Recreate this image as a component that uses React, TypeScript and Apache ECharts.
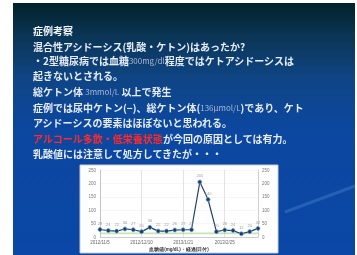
import React, { useEffect, useRef } from "react";
import * as echarts from "echarts";

const categories = [
  "2012/11/5", "2012/11/12", "2012/11/19", "2012/11/26", "2012/12/3",
  "2012/12/10", "2012/12/17", "2012/12/24", "2013/1/7", "2013/1/14",
  "2013/1/21", "2013/1/28", "2013/2/4", "2013/2/11", "2013/2/18",
  "2013/2/25", "2013/3/4", "2013/3/11", "2013/3/18", "2013/3/25",
];
const glucose = [28, 24, 22, 30, 27, 20, 36, 22, 22, 26, 27, 27, 205, 140, 20, 26, 24, 12, 20, 32];
const yTicks = { min: 0, max: 250, interval: 50 };
const targetBand = [10, 17];

const titleText = "症例考察";
const bodyLines: { text: string; y: number }[] = [
  { text: "混合性アシドーシス(乳酸・ケトン)はあったか?", y: 46 },
  { text: "・2型糖尿病では血糖{g|300mg/dl}程度ではケトアシドーシスは", y: 60.5 },
  { text: "起きないとされる。", y: 75 },
  { text: "総ケトン体 {g|3mmol/L} 以上で発生", y: 91 },
  { text: "症例では尿中ケトン(−)、総ケトン体({g|136μmol/L})であり、ケト", y: 107 },
  { text: "アシドーシスの要素はほぼないと思われる。", y: 122 },
  { text: "{r|アルコール多飲・低栄養状態}が今回の原因としては有力。", y: 138 },
  { text: "乳酸値には注意して処方してきたが・・・", y: 153 },
];

export default function App() {
  const ref = useRef<HTMLDivElement>(null);
  useEffect(() => {
    if (!ref.current) return;
    const chart = echarts.init(ref.current, null, { renderer: "svg" });
    const font = '"Noto Sans CJK JP", "Noto Sans", sans-serif';
    const rich = {
      g: { fill: "#a9b8d6", fontSize: 8, fontWeight: "normal", fontFamily: font, lineHeight: 10 },
      r: { fill: "#ff2a2a", fontSize: 10, fontWeight: "bold", fontFamily: font, lineHeight: 10 },
    };
    const graphic: any[] = [
      {
        type: "polygon",
        z: -10,
        shape: { points: [[13, 3], [355, 3], [355, 255], [13, 255]] },
        style: {
          fill: new echarts.graphic.LinearGradient(0, 0, 0, 1, [
            { offset: 0, color: "#03212a" },
            { offset: 0.12, color: "#0a3452" },
            { offset: 0.3, color: "#0f4585" },
            { offset: 0.5, color: "#0c47a0" },
            { offset: 1, color: "#0a47a6" },
          ]),
        },
      },
      {
        type: "line",
        z: -9,
        shape: { x1: 285, y1: 212, x2: 355, y2: 186 },
        style: { stroke: "rgba(120,170,230,0.25)", lineWidth: 3 },
      },
      {
        type: "rect",
        z: -9,
        shape: { x: 80, y: 165, width: 198, height: 88 },
        style: { fill: "#ffffff", stroke: "#c8ccd4", lineWidth: 1 },
      },
      {
        type: "text",
        z: 10,
        x: 33,
        y: 30.5,
        style: {
          text: titleText,
          fill: "#eef3fb",
          fontSize: 10,
          fontWeight: "bold",
          fontFamily: font,
          lineHeight: 10,
          verticalAlign: "middle",
        },
      },
      ...bodyLines.map((l) => ({
        type: "text",
        z: 10,
        x: 33,
        y: l.y,
        style: {
          text: l.text,
          fill: "#e6ecf7",
          fontSize: 10,
          fontWeight: "bold",
          fontFamily: font,
          lineHeight: 10,
          verticalAlign: "middle",
          rich,
        },
      })),
    ];
    const yAxisCommon = {
      type: "value",
      min: yTicks.min,
      max: yTicks.max,
      interval: yTicks.interval,
      axisLine: { show: true, lineStyle: { color: "#b0b0b0", width: 0.6 } },
      axisTick: { show: false },
      axisLabel: { fontSize: 4.5, color: "#777", margin: 4 },
    };
    chart.setOption({
      animation: false,
      graphic,
      grid: { left: 100, right: 99, top: 170, bottom: 18, containLabel: false },
      xAxis: {
        type: "category",
        data: categories,
        boundaryGap: false,
        axisLine: { lineStyle: { color: "#b0b0b0", width: 0.6 } },
        axisTick: { show: false },
        axisLabel: { interval: 4, fontSize: 4.5, color: "#666", margin: 3 },
        splitLine: { show: true, interval: 4, lineStyle: { color: "#d0d0d0", width: 0.6 } },
        name: "血糖値(mg/dL)・経過(日付)",
        nameLocation: "middle",
        nameGap: 10,
        nameTextStyle: { fontSize: 4.5, color: "#333", fontWeight: "bold" },
      },
      yAxis: [
        { ...yAxisCommon, position: "left", splitLine: { show: true, lineStyle: { color: "#ececec", width: 0.5 } } },
        { ...yAxisCommon, position: "right", splitLine: { show: false } },
      ],
      series: [
        {
          type: "line",
          data: glucose,
          yAxisIndex: 0,
          symbol: "circle",
          symbolSize: 4,
          lineStyle: { color: "#23406e", width: 1.2 },
          itemStyle: { color: "#1e3a66", borderColor: "#6fa6d8", borderWidth: 0.8 },
          label: { show: true, position: "top", fontSize: 4, color: "#9a9a9a", distance: 2 },
          markArea: {
            silent: true,
            itemStyle: { color: "rgba(150,210,120,0.55)" },
            data: [[{ yAxis: targetBand[0] }, { yAxis: targetBand[1] }]],
          },
        },
      ],
    });
    return () => chart.dispose();
  }, []);
  return (
    <div
      ref={ref}
      style={{ position: "fixed", left: 0, top: 0, width: 357, height: 255 }}
    />
  );
}
